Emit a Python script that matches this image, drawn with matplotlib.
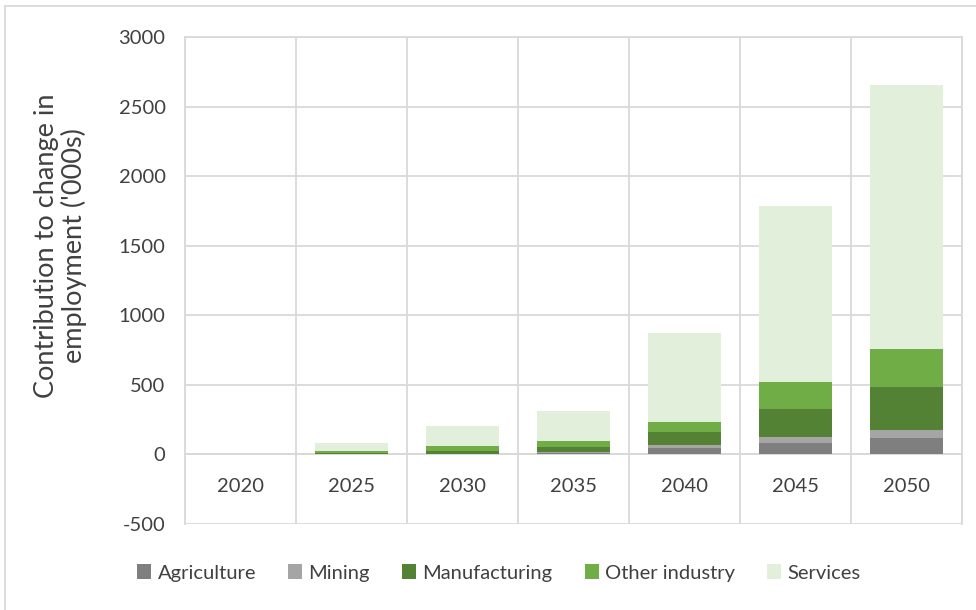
import numpy as np
import matplotlib
matplotlib.use("Agg")
import matplotlib.pyplot as plt
from matplotlib.patches import Rectangle

years = ["2020", "2025", "2030", "2035", "2040", "2045", "2050"]
agriculture = [0, 1, 3, 10, 48, 84, 120]
mining = [0, 1, 2, 8, 20, 43, 55]
manufacturing = [0, 8, 19, 37, 95, 202, 312]
other_industry = [0, 12, 36, 41, 70, 194, 271]
services = [0, 58, 144, 214, 640, 1265, 1898]

series = [
    ("Agriculture", agriculture, "#7f7f7f"),
    ("Mining", mining, "#a5a5a5"),
    ("Manufacturing", manufacturing, "#548235"),
    ("Other industry", other_industry, "#70ad47"),
    ("Services", services, "#e2efda"),
]

plt.rcParams['font.family'] = ['Lato', 'DejaVu Sans']
plt.rcParams['axes.unicode_minus'] = False
grid_col = "#d9d9d9"
txt_col = "#404040"

fig = plt.figure(figsize=(9.76, 6.1), dpi=100)
ax = fig.add_axes([185/976, 1-524/610, 777/976, 487/610])

x = np.arange(len(years))
bottom = np.zeros(len(years))
for name, vals, col in series:
    ax.bar(x, vals, 0.66, bottom=bottom, color=col, label=name, zorder=3)
    bottom += np.array(vals)

ax.set_xlim(-0.5, len(years) - 0.5)
ax.set_ylim(-500, 3000)
ax.set_yticks(np.arange(-500, 3001, 500))
ax.set_xticks(x)
ax.set_xticklabels(years)
ax.set_xticks(np.arange(-0.5, len(years), 1), minor=True)

ax.grid(axis='y', which='major', color=grid_col, lw=1.3, zorder=0)
ax.grid(axis='x', which='minor', color=grid_col, lw=1.3, zorder=0)
ax.spines['bottom'].set_position(('data', 0))
for s in ax.spines.values():
    s.set_color(grid_col)
    s.set_linewidth(1.3)
ax.spines['bottom'].set_zorder(2)

ax.tick_params(axis='both', which='both', length=0, labelsize=14.5, colors=txt_col)
ax.tick_params(axis='y', pad=14)
ax.tick_params(axis='x', pad=17)

ax.set_ylabel("Contribution to change in\nemployment ('000s)", fontsize=19.5,
              color=txt_col, linespacing=1.1)
ax.yaxis.set_label_coords(-0.126, 0.571)

ax.legend(loc='center', bbox_to_anchor=(0.511, 1 - 573/610), bbox_transform=fig.transFigure,
          ncol=5, frameon=False, fontsize=14.5, handlelength=0.7, handleheight=0.7,
          handletextpad=0.3, columnspacing=1.6, labelcolor=txt_col)

fig.patches.append(Rectangle((5/976, -0.02), 1.0, 1.02 - 6/610, transform=fig.transFigure,
                             fill=False, edgecolor=grid_col, lw=1.3))

fig.savefig("out.png", dpi=100)
